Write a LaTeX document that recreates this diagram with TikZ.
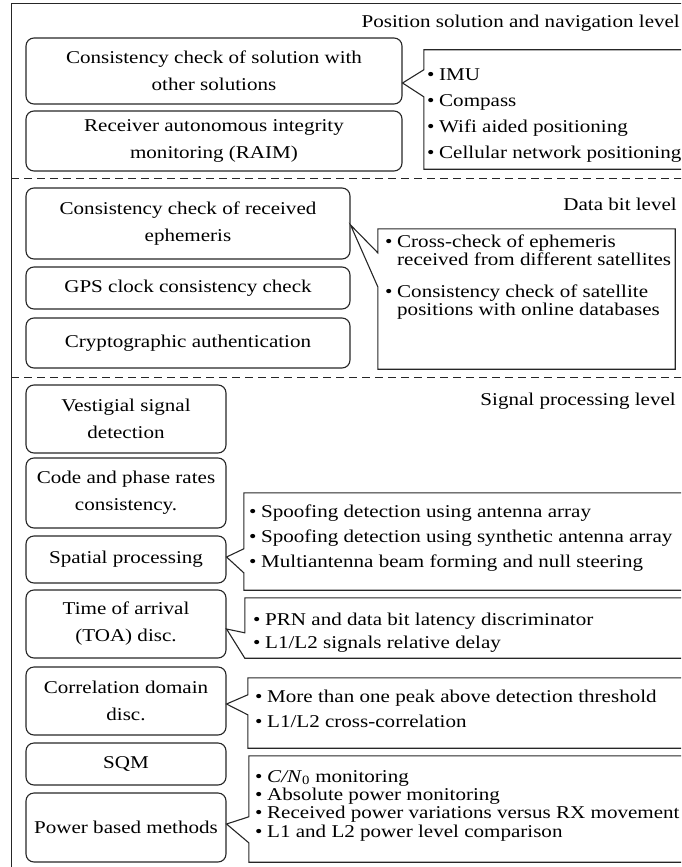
\documentclass[tikz,border=0pt]{standalone}
\usepackage{fontspec}
\setmainfont[FakeStretch=1.17]{Liberation Serif}
\usetikzlibrary{positioning,calc}

\tikzset{
  box/.style={draw=black!85, line width=1.1pt, rounded corners=8pt, align=center, inner sep=0pt},
  lstbox/.style={inner sep=0pt},
  edge/.style={draw=black!85, line width=1.1pt},
  frame/.style={draw=black!85, line width=1pt},
  item/.style={anchor=base west, inner sep=0pt, align=left},
  lvl/.style={anchor=base east, inner sep=0pt},
}
\newcommand{\bul}{\makebox[12pt][l]{\textbullet}}
\newcommand{\ind}{\hspace*{12pt}}

\begin{document}
\begin{tikzpicture}[x=1pt, y=-1pt, font=\fontsize{18}{27}\selectfont]
  \useasboundingbox (0,0) rectangle (681,867);
  \clip (0,0) rectangle (681,867);

  \draw[frame] (700,4) -- (11,4) -- (11,880);                          %Outer frame
  \draw[frame, dash pattern=on 8pt off 5pt] (11,178) -- (700,178);     %Level separators
  \draw[frame, dash pattern=on 8pt off 5pt] (11,377) -- (700,377);

  \node[lvl] (lvlpos) at (680,28) {Position solution and navigation level};
  \node[lvl] (lvldata) at (677,210) {Data bit level};
  \node[lvl] (lvlsig) at (676,405) {Signal processing level};

  % Position solution and navigation level
  \node[box, minimum width=376, minimum height=66] (b1) at (214,71) {Consistency check of solution with\\other solutions};
  \node[box, minimum width=376, minimum height=60] (b2) at (214,141) {Receiver autonomous integrity\\monitoring (RAIM)};

  \node[lstbox, minimum width=276, minimum height=119] (r1) at (562,109.5) {};
  \draw[edge] (r1.north east) -- (r1.north west) -- ($(r1.north west)+(0,20)$) -- (b1.east |- 0,83)
     -- ($(r1.north west)+(0,47)$) -- (r1.south west) -- (r1.south east) -- cycle;
  \node[item] (r1a) at (427,81) {\bul IMU};
  \node[item] (r1b) at (427,106) {\bul Compass};
  \node[item] (r1c) at (427,132) {\bul Wifi aided positioning};
  \node[item] (r1d) at (427,158) {\bul Cellular network positioning};

  % Data bit level
  \node[box, minimum width=324, minimum height=71] (b3) at (188,223.5) {Consistency check of received\\ephemeris};
  \node[box, minimum width=324, minimum height=42] (b4) at (188,288) {GPS clock consistency check};
  \node[box, minimum width=324, minimum height=50] (b5) at (188,343) {Cryptographic authentication};

  \node[lstbox, minimum width=297, minimum height=140] (r2) at (526.5,299) {};
  \draw[edge] (r2.north east) -- (r2.north west) -- ($(r2.north west)+(0,24)$) -- (b3.east |- 0,225)
     -- ($(r2.north west)+(0,58)$) -- (r2.south west) -- (r2.south east) -- cycle;
  \node[item, font=\fontsize{18}{18}\selectfont] (r2a) at (385,265) {\bul Cross-check of ephemeris\\\ind received from different satellites};
  \node[item, font=\fontsize{18}{18}\selectfont] (r2b) at (385,315) {\bul Consistency check of satellite\\\ind positions with online databases};

  % Signal processing level
  \node[box, minimum width=200, minimum height=68] (b6) at (126,419) {Vestigial signal\\detection};
  \node[box, minimum width=200, minimum height=70] (b7) at (126,493) {Code and phase rates\\consistency.};
  \node[box, minimum width=200, minimum height=47] (b8) at (126,559.5) {Spatial processing};
  \node[box, minimum width=200, minimum height=68] (b9) at (126,624) {Time of arrival\\(TOA) disc.};
  \node[box, minimum width=200, minimum height=68] (b10) at (126,701) {Correlation domain\\disc.};
  \node[box, minimum width=200, minimum height=42] (b11) at (126,764) {SQM};
  \node[box, minimum width=200, minimum height=69] (b12) at (126,827.5) {Power based methods};

  \node[lstbox, minimum width=456, minimum height=97] (r3) at (472,541.5) {};
  \draw[edge] (r3.north east) -- (r3.north west) -- ($(r3.north west)+(0,56)$) -- (b8.east |- 0,557)
     -- ($(r3.north west)+(0,80)$) -- (r3.south west) -- (r3.south east) -- cycle;
  \node[item] (r3a) at (249,517) {\bul Spoofing detection using antenna array};
  \node[item] (r3b) at (249,542) {\bul Spoofing detection using synthetic antenna array};
  \node[item] (r3c) at (249,567) {\bul Multiantenna beam forming and null steering};

  \node[lstbox, minimum width=455, minimum height=60] (r4) at (472.5,628) {};
  \draw[edge] (r4.north east) -- (r4.north west) -- ($(r4.north west)+(0,35)$) -- (b9.east |- 0,629)
     -- (r4.south west) -- (r4.south east) -- cycle;
  \node[item] (r4a) at (253,625) {\bul PRN and data bit latency discriminator};
  \node[item] (r4b) at (253,648) {\bul L1/L2 signals relative delay};

  \node[lstbox, minimum width=452, minimum height=70] (r5) at (474,713) {};
  \draw[edge] (r5.north east) -- (r5.north west) -- ($(r5.north west)+(0,17)$) -- (b10.east |- 0,704)
     -- ($(r5.north west)+(0,37)$) -- (r5.south west) -- (r5.south east) -- cycle;
  \node[item] (r5a) at (255,702) {\bul More than one peak above detection threshold};
  \node[item] (r5b) at (255,727) {\bul L1/L2 cross-correlation};

  \node[lstbox, minimum width=451, minimum height=106] (r6) at (474.5,809) {};
  \draw[edge] (r6.north east) -- (r6.north west) -- ($(r6.north west)+(0,61)$) -- (b12.east |- 0,824)
     -- ($(r6.north west)+(0,87)$) -- (r6.south west) -- (r6.south east) -- cycle;
  \node[item] (r6a) at (255,782) {\bul \textit{C/N}\textsubscript{0} monitoring};
  \node[item] (r6b) at (255,800) {\bul Absolute power monitoring};
  \node[item] (r6c) at (255,818) {\bul Received power variations versus RX movement};
  \node[item] (r6d) at (255,837) {\bul L1 and L2 power level comparison};
\end{tikzpicture}
\end{document}
